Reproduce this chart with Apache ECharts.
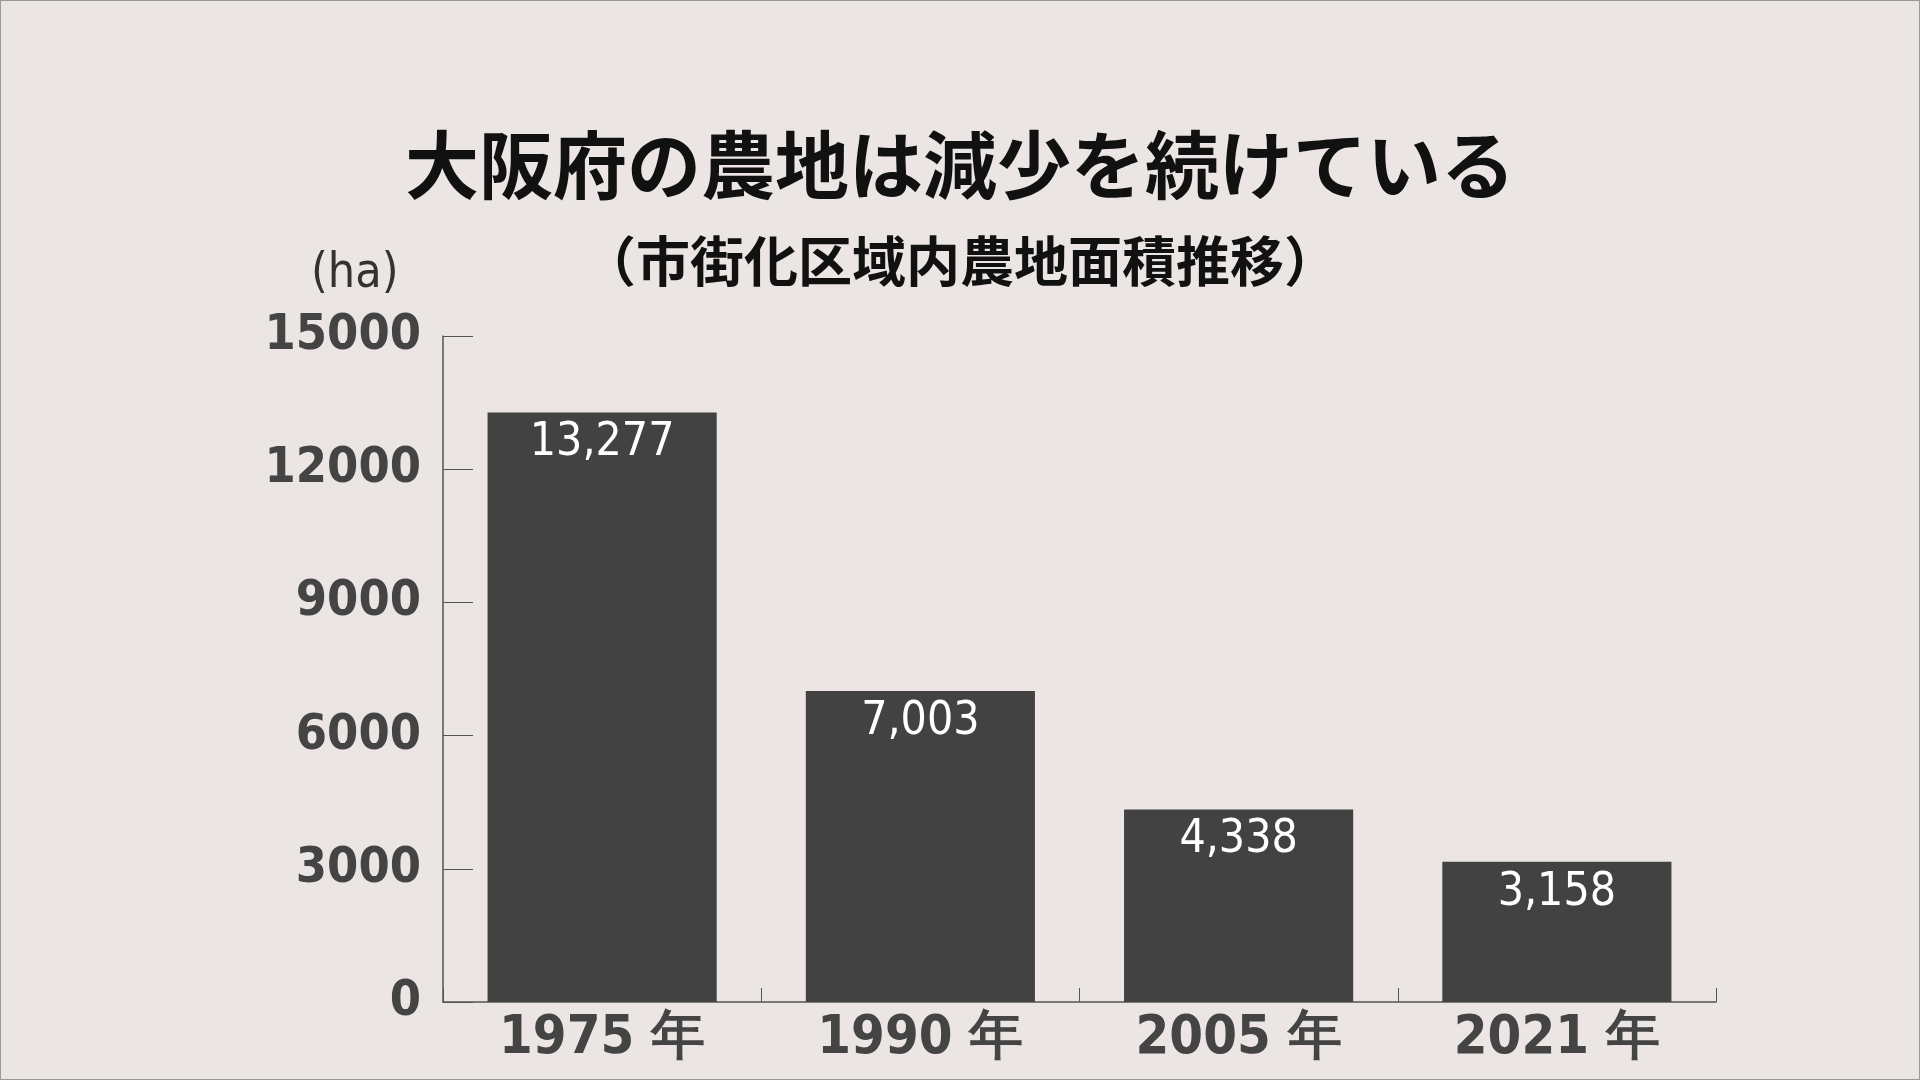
<!DOCTYPE html>
<html><head><meta charset="utf-8">
<script src="https://cdn.jsdelivr.net/npm/echarts@6/dist/echarts.min.js"></script>
<style>html,body{margin:0;padding:0;background:#ebe6e3}#c{width:1920px;height:1080px;box-sizing:border-box;border:1px solid #999}</style>
</head><body><div id="c"></div>
<script>
const categories = ['1975 年','1990 年','2005 年','2021 年'];
const values = [13277, 7003, 4338, 3158];
const yTicks = [0, 3000, 6000, 9000, 12000, 15000];
const chart = echarts.init(document.getElementById('c'));
chart.setOption({
  backgroundColor: '#ebe6e3',
  title: [
    {text: '大阪府の農地は減少を続けている', left: 'center', top: 122,
     textStyle: {fontFamily: 'Noto Sans CJK JP', fontWeight: 'bold', fontSize: 74, color: '#111'}},
    {text: '（市街化区域内農地面積推移）', left: 'center', top: 228,
     textStyle: {fontFamily: 'Noto Sans CJK JP', fontWeight: 'bold', fontSize: 54, color: '#111'}},
    {text: '(ha)', left: 305, top: 245,
     textStyle: {fontFamily: 'DejaVu Sans Condensed', fontWeight: 'normal', fontSize: 48, color: '#333'}}
  ],
  grid: {left: 442, right: 203, top: 335, bottom: 77},
  xAxis: {type: 'category', data: categories,
    axisLine: {lineStyle: {color: '#555', width: 1.5}},
    axisTick: {show: true, inside: true, length: 14, lineStyle: {color: '#555'}},
    axisLabel: {fontFamily: 'DejaVu Sans Condensed', fontWeight: 'bold', fontSize: 54, color: '#444', margin: 10}},
  yAxis: {type: 'value', min: 0, max: 15000, interval: 3000,
    axisLine: {show: true, lineStyle: {color: '#555', width: 1.5}},
    axisTick: {show: true, inside: true, length: 30, lineStyle: {color: '#555'}},
    splitLine: {show: false},
    axisLabel: {fontFamily: 'DejaVu Sans Condensed', fontWeight: 'bold', fontSize: 50, color: '#444', margin: 22,
      formatter: v => yTicks.includes(v) ? String(v) : ''}},
  series: [{type: 'bar', data: values, barWidth: '72%',
    itemStyle: {color: '#424242'},
    label: {show: true, position: 'insideTop', distance: 8, color: '#fff',
      fontFamily: 'DejaVu Sans Condensed', fontSize: 46,
      formatter: p => p.value.toLocaleString('en-US')}}]
});
</script></body></html>
